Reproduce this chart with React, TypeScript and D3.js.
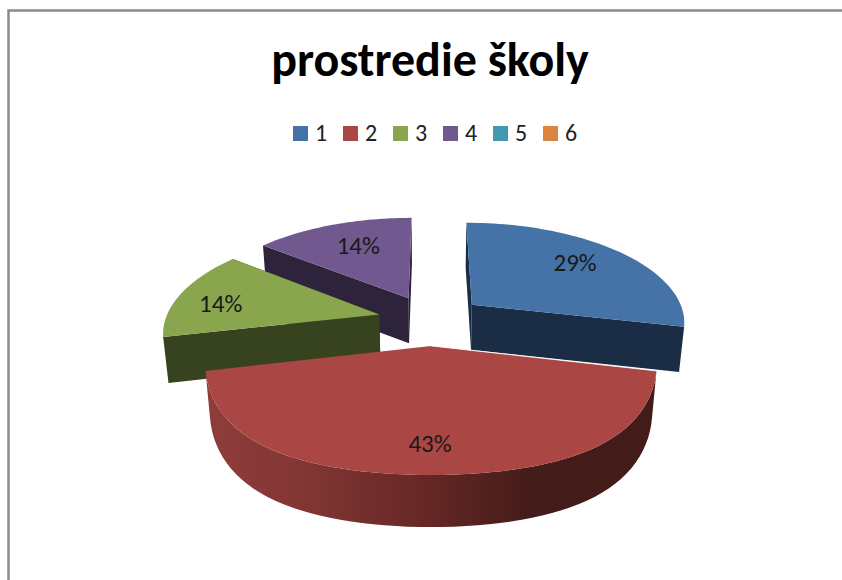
import React from "react";
import * as d3 from "d3";

const title = "prostredie školy";
const categories = ["1", "2", "3", "4", "5", "6"];
const values = [2, 3, 1, 1, 0, 0];
const colors = ["#4572a7", "#aa4643", "#89a54e", "#71588f", "#4198af", "#db843d"];
const wallColors = ["#1b2d44", "#441c1b", "#37421f", "#2d233a", "#1a3d46", "#583518"];

const width = 842;
const height = 580;
const cx = 431;
const cy = 320;
const radiusX = 214; // disc radius on screen
const radiusY = 99.5; // squashed radius
const persp = 0.158; // how much nearer parts grow
const explode = 0.25;
const depth = 45;
const frontFullness = 32; // the near edge of the pie is rounder than an ellipse
const labelRadius = [0.72, 0.784, 0.8, 0.7];
const labelNudge = [[-4, -3], [-1, 0], [1, 6], [5, 0]];

type Pt = [number, number];

// disc coords -> screen, v > 0 is towards the viewer
const project = (u: number, v: number, bottom = false): Pt => {
  const s = 1 / (1 - persp * v);
  const x = radiusX * u * s;
  const y = radiusY * v * s + frontFullness * u * u * Math.max(v - 0.47, 0);
  const drop = depth * (1 + 0.126 * Math.max(v, 0));
  return bottom ? [cx + x * 0.98, cy + y + drop] : [cx + x, cy + y];
};

const slices = d3.pie<number>().sort(null).value((d) => d)(values);
const total = d3.sum(values);
const pct = d3.format(".0%");

const onSlice = (a0: number, a1: number, r: number, a: number, bottom = false): Pt => {
  const mid = (a0 + a1) / 2;
  const u = r * Math.sin(a) + explode * Math.sin(mid);
  const v = -r * Math.cos(a) - explode * Math.cos(mid);
  return project(u, v, bottom);
};

const lineGen = d3.line();

const arcPoints = (a0: number, a1: number, from: number, to: number, bottom = false): Pt[] =>
  d3.range(0, 61).map((i) => onSlice(a0, a1, 1, from + ((to - from) * i) / 60, bottom));

const topPath = (a0: number, a1: number) =>
  lineGen([onSlice(a0, a1, 0, a0), ...arcPoints(a0, a1, a0, a1)]) + "Z";

// cut face between the apex and one outer corner
const wallPath = (a0: number, a1: number, a: number) =>
  lineGen([
    onSlice(a0, a1, 0, a),
    onSlice(a0, a1, 1, a),
    onSlice(a0, a1, 1, a, true),
    onSlice(a0, a1, 0, a, true),
  ]) + "Z";

// outer rim
const rimPath = (a0: number, a1: number) =>
  lineGen([...arcPoints(a0, a1, a0, a1), ...arcPoints(a0, a1, a1, a0, true)]) + "Z";

const legendX = d3.scalePoint<string>().domain(categories).range([293, 543]);

const App = () => {
  const font = "Carlito, Lato, 'Open Sans', sans-serif";
  const order = [3, 2, 0, 1];
  const red = slices[1];
  return (
    <svg
      width={width}
      height={height}
      style={{ position: "absolute", left: 0, top: 0, background: "#fff" }}
    >
      <defs>
        <linearGradient id="redRim" x1="0" x2="1" y1="0" y2="0">
          <stop offset="0" stopColor="#8f3d3b" />
          <stop offset="0.22" stopColor="#823634" />
          <stop offset="0.5" stopColor="#642725" />
          <stop offset="0.72" stopColor="#441c19" />
          <stop offset="1" stopColor="#431b18" />
        </linearGradient>
      </defs>
      <path d="M8.5,580V10.5H842" fill="none" stroke="#8c8c8c" strokeWidth={2.5} />

      <text x={430} y={76} textAnchor="middle" fontFamily={font} fontWeight={700} fontSize={48} fill="#000">
        {title}
      </text>

      {categories.map((c, i) => (
        <g key={c} transform={`translate(${legendX(c)},126)`}>
          <rect width={15} height={15} fill={colors[i]} />
          <text x={22} y={15} fontFamily={font} fontSize={24} fill="#222">
            {c}
          </text>
        </g>
      ))}

      {order.map((i) => {
        const { startAngle: a0, endAngle: a1 } = slices[i];
        return (
          <g key={i}>
            {i === 1 ? (
              <path d={rimPath(a0, a1)} fill="url(#redRim)" />
            ) : (
              <>
                <path d={wallPath(a0, a1, a0)} fill={wallColors[i]} />
                <path d={wallPath(a0, a1, a1)} fill={wallColors[i]} />
              </>
            )}
            <path d={topPath(a0, a1)} fill={colors[i]} />
          </g>
        );
      })}

      {/* thin light edge where the red slice covers the blue wall */}
      <path
        d={lineGen([
          onSlice(red.startAngle, red.endAngle, 0, red.startAngle),
          onSlice(red.startAngle, red.endAngle, 1, red.startAngle),
        ]) ?? ""}
        stroke="#fff"
        strokeOpacity={0.8}
        fill="none"
      />

      {order.map((i) => {
        const { startAngle: a0, endAngle: a1 } = slices[i];
        const [x, y] = onSlice(a0, a1, labelRadius[i], (a0 + a1) / 2);
        return (
          <text
            key={i}
            x={x + labelNudge[i][0]}
            y={y + labelNudge[i][1]}
            dy="0.35em"
            textAnchor="middle"
            fontFamily={font}
            fontSize={25}
            fill="#1a1a1a"
          >
            {pct(values[i] / total)}
          </text>
        );
      })}
    </svg>
  );
};

export default App;
